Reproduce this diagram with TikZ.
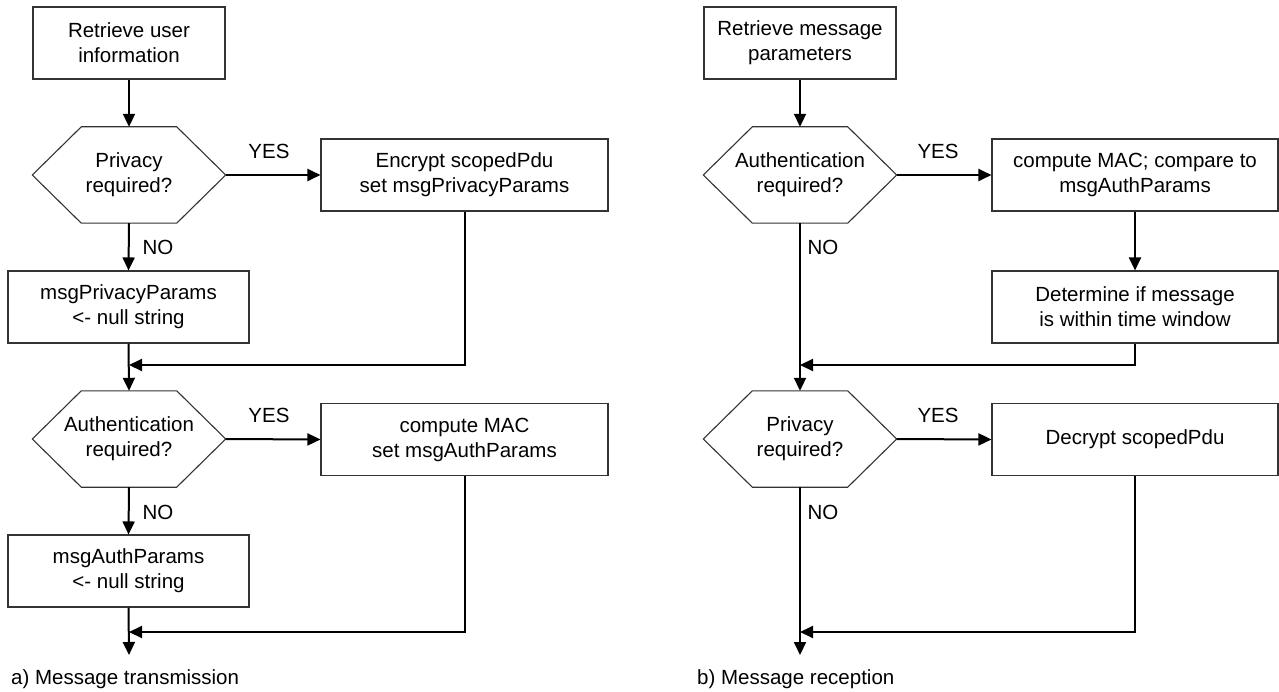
\documentclass[tikz,border=0pt]{standalone}
\usepackage{fontspec}
\setmainfont{Liberation Sans}
\usetikzlibrary{arrows.meta}
\begin{document}
\begin{tikzpicture}[x=1pt,y=-1pt,
  font=\fontsize{20.5}{25}\selectfont,
  boxline/.style={draw=black!80, line width=1.1pt},
  procbox/.style={boxline, rectangle, minimum height=72pt, inner sep=0pt, align=center},
  hexnode/.style={minimum width=193pt, minimum height=96pt, inner sep=0pt, align=center},
  flow/.style={line width=2pt, -{Triangle[length=13pt,width=12pt]}},
  link/.style={line width=2pt},
  lbl/.style={inner sep=0pt}]
\useasboundingbox (0,0) rectangle (1279,692);

% ---------- a) transmission ----------
\node[procbox, minimum width=192pt] (a1) at (129,43) {Retrieve user\\information};
\node[hexnode] (ah1) at (129,175) {Privacy\\required?};
\node[procbox, minimum width=287pt] (ae1) at (464.5,175) {Encrypt scopedPdu\\set msgPrivacyParams};
\node[procbox, minimum width=241pt] (an1) at (128.5,307) {msgPrivacyParams\\<- null string};
\node[hexnode] (ah2) at (129,439) {Authentication\\required?};
\node[procbox, minimum width=287pt] (ae2) at (464.5,439.5) {compute MAC\\set msgAuthParams};
\node[procbox, minimum width=241pt] (an2) at (128.5,571) {msgAuthParams\\<- null string};
\coordinate (am1) at (129,365);
\coordinate (am2) at (129,632);
\coordinate (aend) at (129,655);
\node[lbl, anchor=west] (acap) at (11,679) {a) Message transmission};

% ---------- b) reception ----------
\node[procbox, minimum width=192pt] (b1) at (800,43) {Retrieve message\\parameters};
\node[hexnode] (bh1) at (800,175) {Authentication\\required?};
\node[procbox, minimum width=286pt] (bc1) at (1135,175) {compute MAC; compare to\\msgAuthParams};
\node[procbox, minimum width=286pt] (bd1) at (1135,307) {Determine if message\\is within time window};
\node[hexnode] (bh2) at (800,439) {Privacy\\required?};
\node[procbox, minimum width=286pt] (bc2) at (1135,439.5) {Decrypt scopedPdu};
\coordinate (bm1) at (800,365);
\coordinate (bm2) at (800,632);
\coordinate (bend) at (800,655);
\node[lbl, anchor=west] (bcap) at (697,679) {b) Message reception};

% hexagonal decision outlines
\foreach \h in {ah1,ah2,bh1,bh2}
  \draw[boxline] (\h.west) -- ([xshift=49pt]\h.north west) -- ([xshift=-49pt]\h.north east)
    -- (\h.east) -- ([xshift=-49pt]\h.south east) -- ([xshift=49pt]\h.south west) -- cycle;

% ---------- connectors a) ----------
\draw[flow] (a1.south) -- (ah1.north);
\draw[flow] (ah1.east) -- (ae1.west);
\draw[flow] (ah1.south) -- (an1.north);
\draw[flow] (an1.south) -- (ah2.north);
\draw[flow] (ae1.south) |- (am1);
\draw[flow] (ah2.east) -- (ae2.west);
\draw[flow] (ah2.south) -- (an2.north);
\draw[flow] (an2.south) -- (aend);
\draw[flow] (ae2.south) |- (am2);

\node[lbl] (ay1) at (269,151) {YES};
\node[lbl] (an1l) at (158,247) {NO};
\node[lbl] (ay2) at (269,415) {YES};
\node[lbl] (an2l) at (158,512) {NO};

% ---------- connectors b) ----------
\draw[flow] (b1.south) -- (bh1.north);
\draw[flow] (bh1.east) -- (bc1.west);
\draw[flow] (bc1.south) -- (bd1.north);
\draw[flow] (bh1.south) -- (bh2.north);
\draw[flow] (bd1.south) |- (bm1);
\draw[flow] (bh2.east) -- (bc2.west);
\draw[flow] (bh2.south) -- (bend);
\draw[flow] (bc2.south) |- (bm2);

\node[lbl] (by1) at (938,151) {YES};
\node[lbl] (bn1l) at (823,247) {NO};
\node[lbl] (by2) at (938,415) {YES};
\node[lbl] (bn2l) at (823,512) {NO};
\end{tikzpicture}
\end{document}
